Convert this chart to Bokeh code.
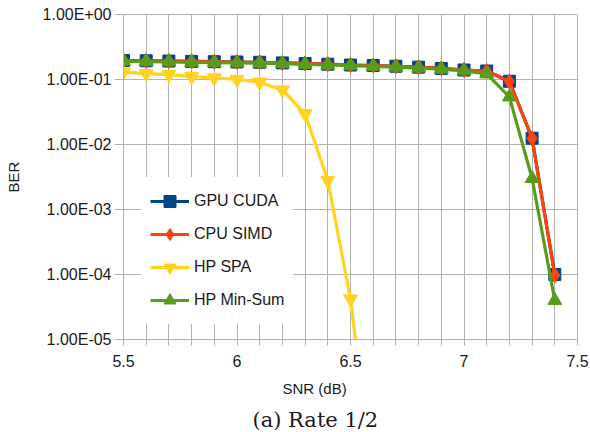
import math
from bokeh.plotting import figure
from bokeh.models import (FixedTicker, SingleIntervalTicker, CustomJSTickFormatter,
                          Range1d, Title, Legend)
from bokeh.embed import file_html
from bokeh.resources import INLINE

snr = [5.5, 5.6, 5.7, 5.8, 5.9, 6.0, 6.1, 6.2, 6.3, 6.4,
       6.5, 6.6, 6.7, 6.8, 6.9, 7.0, 7.1, 7.2, 7.3, 7.4]
gpu_cuda = [0.196, 0.194, 0.192, 0.190, 0.188, 0.186, 0.184, 0.180, 0.176, 0.172,
            0.167, 0.164, 0.160, 0.155, 0.148, 0.140, 0.135, 0.094, 0.0125, 1.0e-4]
cpu_simd = [0.196, 0.194, 0.192, 0.190, 0.188, 0.186, 0.184, 0.180, 0.176, 0.172,
            0.167, 0.164, 0.160, 0.155, 0.148, 0.140, 0.135, 0.093, 0.0124, 9.7e-5]
snr_spa = [5.5, 5.6, 5.7, 5.8, 5.9, 6.0, 6.1, 6.2, 6.3, 6.4, 6.5, 6.6]
hp_spa = [0.130, 0.123, 0.119, 0.111, 0.106, 0.100, 0.091, 0.069, 0.0297, 0.0028, 4.2e-5, 6e-8]
hp_minsum = [0.190, 0.188, 0.186, 0.184, 0.182, 0.180, 0.178, 0.175, 0.171, 0.167,
             0.163, 0.159, 0.155, 0.150, 0.144, 0.136, 0.122, 0.054, 0.0030, 4.0e-5]

y_ticks = [1e-5, 1e-4, 1e-3, 1e-2, 1e-1, 1.0]

FONT = "Liberation Sans"
GRID = "#b3b3b3"
TXT = "#1a1a1a"

p = figure(width=590, height=432, output_backend="svg", toolbar_location=None,
           y_axis_type="log", x_range=Range1d(5.5, 7.5), y_range=Range1d(1e-5, 1.0),
           min_border_left=123, min_border_right=13, min_border_top=14,
           min_border_bottom=93, background_fill_color="white",
           border_fill_color="white")
p.outline_line_color = GRID

# axes
p.xaxis.ticker = SingleIntervalTicker(interval=0.5, num_minor_ticks=5)
p.xaxis.formatter = CustomJSTickFormatter(code="return String(Math.round(tick*10)/10);")
p.yaxis.ticker = FixedTicker(ticks=y_ticks, minor_ticks=[])
p.yaxis.formatter = CustomJSTickFormatter(code="""
const s = tick.toExponential(2);
const parts = s.split('e');
const sign = parts[1][0];
let d = parts[1].slice(1);
if (d.length < 2) d = '0' + d;
return parts[0] + 'E' + sign + d;
""")
for ax in (p.xaxis[0], p.yaxis[0]):
    ax.axis_line_color = GRID
    ax.major_tick_line_color = GRID
    ax.minor_tick_line_color = GRID
    ax.major_label_text_font = FONT
    ax.major_label_text_font_size = "16px"
    ax.major_label_text_color = TXT
ax = p.xaxis[0]
ax.major_tick_out = 6
ax.major_tick_in = 0
ax.minor_tick_out = 6
ax.minor_tick_in = 0
ax.major_label_standoff = 9
ay = p.yaxis[0]
ay.major_tick_out = 9
ay.major_tick_in = 0
ay.major_label_standoff = 3
ay.axis_label = "BER"
ay.axis_label_text_font = FONT
ay.axis_label_text_font_size = "15px"
ay.axis_label_text_font_style = "normal"
ay.axis_label_text_color = TXT
ay.axis_label_standoff = 18

p.xgrid.ticker = p.xaxis[0].ticker
p.xgrid.grid_line_color = GRID
p.xgrid.minor_grid_line_color = GRID
p.ygrid.grid_line_color = GRID

series = [
    ("GPU CUDA", snr, gpu_cuda, "#004586", "square", 12),
    ("CPU SIMD", snr, cpu_simd, "#ff420e", "diamond", 15),
    ("HP SPA", snr_spa, hp_spa, "#ffd320", "inverted_triangle", 14),
    ("HP Min-Sum", snr, hp_minsum, "#579d1c", "triangle", 14),
]
items = []
for name, xs, ys, col, mk, sz in series:
    r1 = p.line(xs, ys, line_color=col, line_width=3.2)
    r2 = p.scatter(xs, ys, marker=mk, size=sz, fill_color=col, line_color=col)
    items.append((name, [r1, r2]))

legend = Legend(items=items, location=(18, 15))
legend.label_text_font = FONT
legend.label_text_font_size = "16px"
legend.label_text_color = TXT
legend.glyph_width = 39
legend.glyph_height = 30
legend.label_height = 30
legend.label_standoff = 5
legend.spacing = 3
legend.padding = 9
legend.margin = 0
legend.border_line_alpha = 0
legend.background_fill_color = "white"
legend.background_fill_alpha = 1.0
p.add_layout(legend, "center")

# x-axis title and caption
t_x = Title(text="SNR (dB)", align="left", offset=159, text_font=FONT,
            text_font_size="15px", text_font_style="normal", text_color=TXT, standoff=17)
t_cap = Title(text="(a) Rate 1/2", align="left", offset=129, text_font="DejaVu Serif",
              text_font_size="21px", text_font_style="normal", text_color=TXT, standoff=0)
p.add_layout(t_x, "below")
p.add_layout(t_cap, "below")

open("out.html", "w").write(file_html(p, INLINE))
